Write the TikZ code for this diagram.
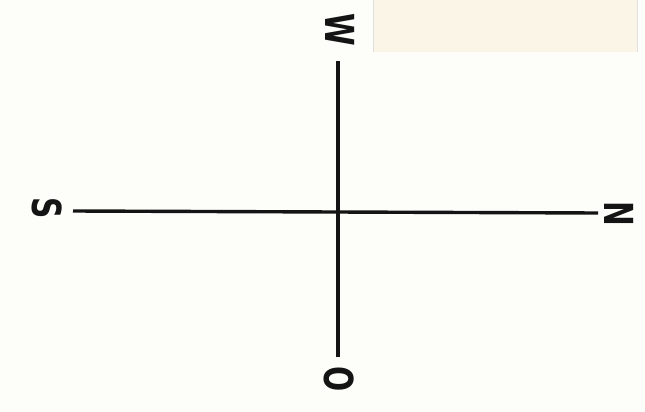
\documentclass[tikz,border=0pt]{standalone}
\usepackage{fontspec}
\setmainfont{DejaVu Sans}
\definecolor{paper}{HTML}{FDFDFA}
\definecolor{patch}{HTML}{FAF5E6}
\definecolor{ink}{HTML}{141414}
\tikzset{
  lbl/.style={rotate=-90, inner sep=0pt, text=ink, font=\fontsize{40}{40}\selectfont\bfseries},
  axis/.style={draw=ink, line width=3.4pt}
}
\newcommand{\narrow}[1]{\scalebox{0.74}[1]{#1}}
\begin{document}
\begin{tikzpicture}[x=1pt,y=-1pt]
  \useasboundingbox (0,0) rectangle (645,412);
  \fill[paper] (0,0) rectangle (645,412);
  \fill[patch] (373,0) rectangle (637,52);
  \draw[gray!25, line width=0.6pt] (373,0) -- (373,52) (637,0) -- (637,52);
  \node[lbl] (w) at (340,30) {\narrow{W}};
  \node[lbl] (s) at (47,208) {\narrow{S}};
  \node[lbl] (n) at (619,214) {\narrow{N}};
  \node[lbl] (o) at (339,379) {\narrow{O}};
  \coordinate (c) at (338,211);
  \draw[axis] (73,211) coordinate (sE) (sE) -- (598,213) coordinate (nE);
  \draw[axis] (338,61) coordinate (wE) (wE) -- (338,357) coordinate (oE);
\end{tikzpicture}
\end{document}
